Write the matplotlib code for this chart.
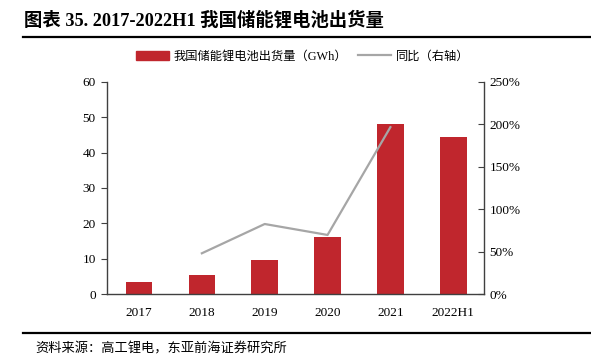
import numpy as np
import matplotlib.pyplot as plt
from matplotlib.lines import Line2D
from matplotlib.patches import Patch
from matplotlib.ticker import FuncFormatter

plt.rcParams['font.family'] = ['Liberation Serif', 'Noto Sans CJK SC']

# Data
years = ["2017", "2018", "2019", "2020", "2021", "2022H1"]
shipments = [3.5, 5.3, 9.5, 16.2, 48.0, 44.5]       # GWh
yoy = [None, 48, 82.5, 69.6, 196.6, None]          # %

bar_color = "#C0262D"
line_color = "#A6A6A6"
axis_color = "#404040"

fig = plt.figure(figsize=(5.91, 3.59), dpi=100)
ax = fig.add_axes([0.181, 0.181, 0.638, 0.591])
ax2 = ax.twinx()

x = np.arange(len(years))
ax.bar(x, shipments, width=0.425, color=bar_color, zorder=2)

line_x = [i for i, v in enumerate(yoy) if v is not None]
line_y = [v for v in yoy if v is not None]
ax2.plot(line_x, line_y, color=line_color, linewidth=1.6, zorder=3)

ax.set_xlim(-0.51, 5.49)
ax.set_ylim(0, 60)
ax.set_yticks(range(0, 61, 10))
ax2.set_ylim(0, 250)
ax2.set_yticks(range(0, 251, 50))
ax2.yaxis.set_major_formatter(FuncFormatter(lambda v, p: f"{int(v)}%"))

ax.set_xticks(x)
ax.set_xticklabels(years)
ax.tick_params(axis='x', length=0, pad=9, labelsize=9.5)
ax.tick_params(axis='y', direction='out', length=4, color=axis_color, labelsize=9.5, pad=4)
ax2.tick_params(axis='y', direction='in', length=4, color=axis_color, labelsize=9.5, pad=4)

for a in (ax, ax2):
    a.spines['top'].set_visible(False)
    for s in ('left', 'right', 'bottom'):
        a.spines[s].set_color(axis_color)
        a.spines[s].set_linewidth(1.0)
ax.spines['right'].set_visible(False)
ax2.spines['left'].set_visible(False)
ax2.spines['bottom'].set_visible(False)

# Legend
handles = [Patch(color=bar_color), Line2D([0], [0], color=line_color, linewidth=1.6)]
labels = ["我国储能锂电池出货量（GWh）", "同比（右轴）"]
fig.legend(handles, labels, loc='center', bbox_to_anchor=(0.512, 0.842), ncol=2,
           frameon=False, fontsize=8.8, handlelength=2.7, handleheight=0.8,
           columnspacing=0.9, handletextpad=0.4)

# Title and rules
fig.text(0.04, 0.943, "图表 35. 2017-2022H1 我国储能锂电池出货量", fontsize=13.2,
         fontweight='bold', va='center', ha='left')
fig.add_artist(Line2D([0.039, 0.998], [0.897, 0.897], color='black', linewidth=1.6))
fig.add_artist(Line2D([0.039, 0.998], [0.072, 0.072], color='black', linewidth=1.6))
fig.text(0.06, 0.028, "资料来源：高工锂电，东亚前海证券研究所", fontsize=9.5, va='center', ha='left')

fig.savefig("out.png", dpi=100)
